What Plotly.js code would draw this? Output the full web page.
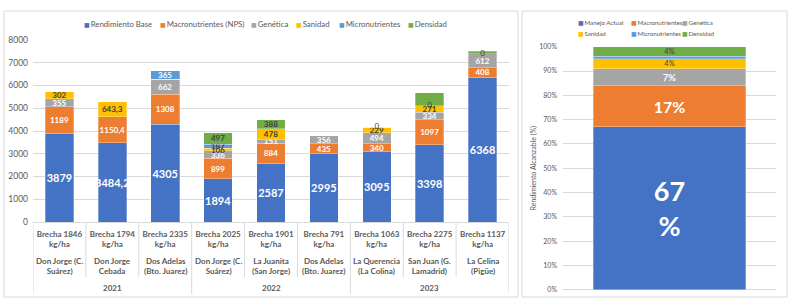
<!DOCTYPE html>
<html>
<head>
<meta charset="utf-8">
<script src="https://cdn.plot.ly/plotly-3.0.1.min.js"></script>
<style>
  html, body { margin: 0; padding: 0; background: #ffffff; }
  #chart { width: 790px; height: 304px; }
</style>
</head>
<body>
<div id="chart"></div>
<script>
// ---- Rendimiento por lote: campañas y sitios ----
const years = ['2021', '2021', '2021', '2022', '2022', '2022', '2023', '2023', '2023'];
const sites = [
  'Don Jorge (C.<br>Suárez)', 'Don Jorge<br>Cebada', 'Dos Adelas<br>(Bto. Juarez)',
  'Don Jorge (C.<br>Suárez)', 'La Juanita<br>(San Jorge)', 'Dos Adelas<br>(Bto. Juarez)',
  'La Querencia<br>(La Colina)', 'San Juan (G.<br>Lamadrid)', 'La Celina<br>(Pigüe)'
];

// kg/ha per factor (null = factor not evaluated at that site)
const rendimientoBase = [3879, 3484.2, 4305, 1894, 2587, 2995, 3095, 3398, 6368];
const macronutrientes = [1189, 1150.4, 1308, 899, 884, 435, 340, 1097, 408];
const genetica        = [355, null, 662, 336, 151, 356, 494, 334, 612];
const sanidad         = [302, 643.3, null, 106, 478, null, 229, 271, 0];
const micronutrientes = [null, null, 365, 187, null, null, null, 0, null];
const densidad        = [null, null, null, 497, 388, null, 0, 573, 117];
const densidadSinEtiqueta = [7, 8];

// Share of attainable yield (%)
const resumenNombres = ['Manejo Actual', 'Macronutrientes', 'Genética', 'Sanidad', 'Micronutrientes', 'Densidad'];
const resumenValores = [67, 17, 7, 4, 1, 4];
const resumenSinEtiqueta = ['Micronutrientes'];

// ---- styling ----
const FONT = 'Lato, "Open Sans", sans-serif';
const GRID = '#D9D9D9';
const AXIS_TXT = '#595959';
const DARK = '#404040';
const colors = ['#4472C4', '#ED7D31', '#A5A5A5', '#FFC000', '#5B9BD5', '#70AD47'];
const W = 790, H = 304;
const px = v => v / W;
const py = v => 1 - v / H;

const fmt = v => (v === null || v === undefined) ? '' : String(v).replace('.', ',');
const idx = rendimientoBase.map((_, i) => i);

const series = [
  { name: 'Rendimiento Base', values: rendimientoBase, size: 11, color: '#ffffff' },
  { name: 'Macronutrientes (NPS)', values: macronutrientes, size: 8, color: '#ffffff' },
  { name: 'Genética', values: genetica, size: 8, color: '#ffffff' },
  { name: 'Sanidad', values: sanidad, size: 8, color: DARK },
  { name: 'Micronutrientes', values: micronutrientes, size: 8,
    color: micronutrientes.map((v, i) => i === 2 ? '#ffffff' : DARK) },
  { name: 'Densidad', values: densidad, size: 8, color: DARK, hide: densidadSinEtiqueta }
];

const traces = [];
series.forEach((s, k) => {
  traces.push({
    type: 'bar', x: idx, y: s.values.map(v => v === null ? 0 : v),
    name: s.name, xaxis: 'x', yaxis: 'y', width: 0.54,
    marker: { color: colors[k], line: { color: 'rgba(255,255,255,0.6)', width: 0.5 } },
    text: s.values.map((v, i) => (s.hide && s.hide.includes(i)) ? '' : fmt(v)),
    textposition: 'inside', insidetextanchor: 'middle', textangle: 0,
    constraintext: 'none', cliponaxis: false,
    textfont: { family: FONT, size: s.size, color: s.color, weight: 'bold' },
    hoverinfo: 'skip', showlegend: false
  });
});

// labels of zero-valued factors, placed on the stack where the factor sits
const zeroX = [], zeroY = [];
series.forEach((s, k) => {
  s.values.forEach((v, i) => {
    if (v === 0 && !(s.hide && s.hide.includes(i))) {
      let below = 0;
      for (let j = 0; j < k; j++) below += series[j].values[i] || 0;
      zeroX.push(i); zeroY.push(below);
    }
  });
});
traces.push({
  type: 'scatter', mode: 'text', x: zeroX, y: zeroY, text: zeroX.map(() => '0'),
  textposition: 'middle center', xaxis: 'x', yaxis: 'y', cliponaxis: false,
  textfont: { family: FONT, size: 8, color: DARK },
  hoverinfo: 'skip', showlegend: false
});

// summary bar
const resumenTexto = {
  'Manejo Actual': { size: 27, color: '#ffffff', weight: 'bold', fmt: v => v + '<br>%' },
  'Macronutrientes': { size: 16, color: '#ffffff', weight: 'bold', fmt: v => v + '%' },
  'Genética': { size: 9.5, color: '#ffffff', weight: 'bold', fmt: v => v + '%' },
  'Sanidad': { size: 7.5, color: DARK, weight: 'normal', fmt: v => v + '%' },
  'Micronutrientes': { size: 7.5, color: DARK, weight: 'normal', fmt: v => v + '%' },
  'Densidad': { size: 7.5, color: DARK, weight: 'normal', fmt: v => v + '%' }
};
resumenNombres.forEach((n, k) => {
  const st = resumenTexto[n];
  traces.push({
    type: 'bar', x: [0], y: [resumenValores[k]], name: n, xaxis: 'x2', yaxis: 'y2', width: 0.714,
    marker: { color: colors[k], line: { color: 'rgba(255,255,255,0.6)', width: 0.5 } },
    text: [resumenSinEtiqueta.includes(n) ? '' : st.fmt(resumenValores[k])],
    textposition: 'inside', insidetextanchor: 'middle', textangle: 0, constraintext: 'none',
    textfont: { family: FONT, size: st.size, color: st.color, weight: st.weight },
    hoverinfo: 'skip', showlegend: false
  });
});

// category text: gap per site, site names, campaign years
const brecha = idx.map(i => Math.round(series.slice(1).reduce((a, s) => a + (s.values[i] || 0), 0)));
const tickText = brecha.map(b => 'Brecha ' + b + '<br>kg/ha');

const annotations = [];
sites.forEach((s, i) => annotations.push({
  xref: 'x', yref: 'paper', x: i, y: py(265.5), text: s, showarrow: false,
  xanchor: 'center', yanchor: 'middle',
  font: { family: FONT, size: 8, color: AXIS_TXT, weight: 'bold' }
}));
const groups = [...new Set(years)];
groups.forEach(g => {
  const members = idx.filter(i => years[i] === g);
  const mid = (members[0] + members[members.length - 1]) / 2;
  annotations.push({
    xref: 'x', yref: 'paper', x: mid, y: py(288), text: g, showarrow: false,
    xanchor: 'center', yanchor: 'middle',
    font: { family: FONT, size: 8, color: AXIS_TXT, weight: 'bold' }
  });
});

// legends
const sq = c => '<span style="color:' + c + ';font-family:DejaVu Sans;font-size:6px">■</span>\u2009';
const legLeftX = [83, 159, 250, 295, 338, 407];
series.forEach((s, k) => annotations.push({
  xref: 'paper', yref: 'paper', x: px(legLeftX[k]), y: py(24), text: sq(colors[k]) + s.name,
  showarrow: false, xanchor: 'left', yanchor: 'middle', borderpad: 0,
  font: { family: FONT, size: 7.8, color: AXIS_TXT }
}));
const legRightX = [577, 630, 681], legRightY = [22, 34];
resumenNombres.forEach((n, k) => annotations.push({
  xref: 'paper', yref: 'paper', x: px(legRightX[k % 3]), y: py(legRightY[Math.floor(k / 3)]),
  text: sq(colors[k]) + n, showarrow: false, xanchor: 'left', yanchor: 'middle', borderpad: 0,
  font: { family: FONT, size: 6.2, color: AXIS_TXT }
}));

// panel frames and category dividers
const shapes = [
  { type: 'rect', xref: 'paper', yref: 'paper', x0: px(4), x1: px(518), y0: py(297), y1: py(11),
    line: { color: GRID, width: 1 }, layer: 'below' },
  { type: 'rect', xref: 'paper', yref: 'paper', x0: px(522), x1: px(787), y0: py(297), y1: py(11),
    line: { color: GRID, width: 1 }, layer: 'below' }
];
for (let b = 0; b <= idx.length; b++) {
  const edge = b === 0 || b === idx.length || years[b] !== years[b - 1];
  shapes.push({
    type: 'line', xref: 'x', yref: 'paper', x0: b - 0.5, x1: b - 0.5,
    y0: py(222), y1: py(edge ? 294 : 277), line: { color: GRID, width: 1 }
  });
}

const layout = {
  width: W, height: H, margin: { l: 0, r: 0, t: 0, b: 0 },
  paper_bgcolor: '#ffffff', plot_bgcolor: 'rgba(0,0,0,0)',
  barmode: 'stack', font: { family: FONT, color: AXIS_TXT },
  xaxis: {
    domain: [px(33), px(509)], anchor: 'y', range: [-0.5, 8.5],
    tickvals: idx, ticktext: tickText, ticks: '', showgrid: false, zeroline: false,
    tickfont: { family: FONT, size: 8, color: AXIS_TXT, weight: 'bold' },
    ticklabelstandoff: 6, fixedrange: true
  },
  yaxis: {
    domain: [py(222), py(40)], anchor: 'x', range: [0, 8000], dtick: 1000,
    gridcolor: GRID, gridwidth: 1, zeroline: true, zerolinecolor: GRID, zerolinewidth: 1,
    tickfont: { family: FONT, size: 8.5, color: AXIS_TXT }, ticklabelstandoff: 4, fixedrange: true
  },
  xaxis2: {
    domain: [px(563), px(776)], anchor: 'y2', range: [-0.5, 0.5],
    showticklabels: false, showgrid: false, zeroline: false, fixedrange: true
  },
  yaxis2: {
    domain: [py(289.7), py(46.7)], anchor: 'x2', range: [0, 100], dtick: 10, ticksuffix: '%',
    gridcolor: GRID, gridwidth: 1, zeroline: true, zerolinecolor: GRID,
    tickfont: { family: FONT, size: 7, color: AXIS_TXT }, ticklabelstandoff: 5,
    title: { text: 'Rendimiento Alcanzable (%)', font: { family: FONT, size: 7, color: AXIS_TXT }, standoff: 1 },
    fixedrange: true
  },
  annotations: annotations,
  shapes: shapes
};

Plotly.newPlot('chart', traces, layout, { displayModeBar: false, staticPlot: true });
</script>
</body>
</html>
